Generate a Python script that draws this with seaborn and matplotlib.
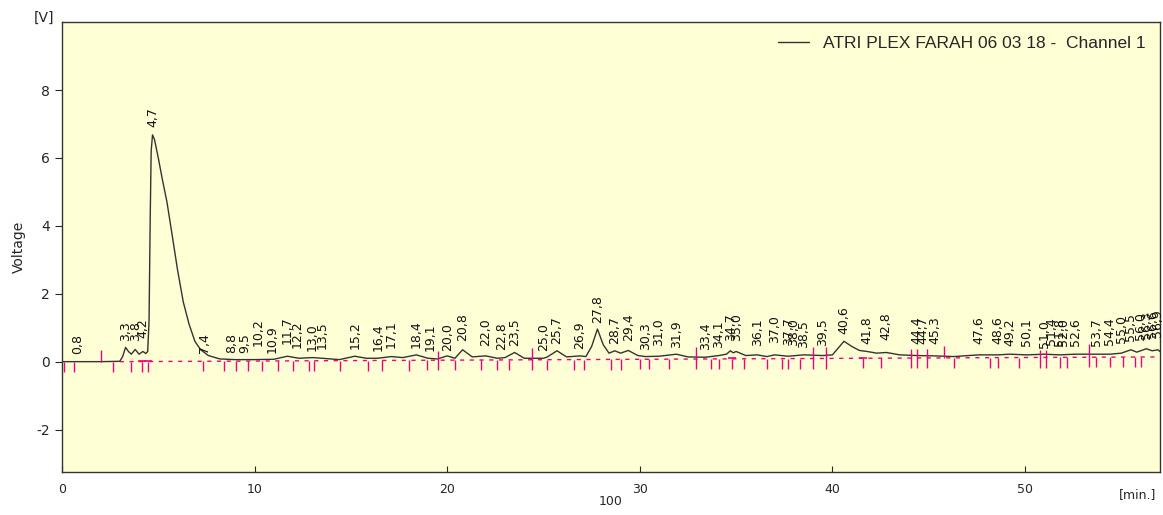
import numpy as np
import pandas as pd
import seaborn as sns
import matplotlib.pyplot as plt

# chromatogram trace: time [min.], voltage [V]
trace_time = [0.0, 1.0, 2.0, 3.0, 3.15, 3.3, 3.45, 3.6, 3.8, 4.0, 4.2, 4.35, 4.45,
              4.52, 4.58, 4.63, 4.7, 4.8, 5.0, 5.2, 5.45, 5.7, 6.0, 6.3, 6.6, 6.9,
              7.2, 7.6, 8.2, 9.0, 10.0, 11.0, 11.7, 12.3, 13.0, 13.5, 14.4, 15.2,
              15.8, 16.4, 17.1, 17.7, 18.4, 19.0, 19.5, 20.0, 20.4, 20.8, 21.3, 22.0,
              22.6, 23.0, 23.5, 24.0, 25.0, 25.2, 25.7, 26.2, 26.9, 27.2, 27.5, 27.8,
              28.1, 28.4, 28.7, 29.0, 29.4, 29.9, 30.3, 31.0, 31.9, 32.5, 33.4, 34.1,
              34.5, 34.7, 34.85, 35.0, 35.5, 36.1, 36.6, 37.0, 37.7, 38.5, 39.5, 40.0,
              40.3, 40.6, 41.0, 41.4, 41.8, 42.3, 42.8, 43.5, 44.4, 45.3, 46.3, 47.6,
              48.6, 49.2, 50.1, 51.0, 51.8, 52.6, 53.7, 54.4, 55.0, 55.5, 55.8, 56.3,
              56.6, 56.9, 57.0]
trace_volt = [0.0, 0.0, 0.0, 0.01, 0.15, 0.42, 0.3, 0.22, 0.36, 0.22, 0.3, 0.24, 0.3,
              1.2, 4.2, 6.2, 6.68, 6.55, 6.0, 5.4, 4.7, 3.8, 2.7, 1.75, 1.1, 0.6,
              0.35, 0.18, 0.08, 0.06, 0.06, 0.07, 0.16, 0.1, 0.12, 0.1, 0.06, 0.16,
              0.1, 0.1, 0.15, 0.12, 0.2, 0.1, 0.08, 0.17, 0.1, 0.35, 0.14, 0.17,
              0.1, 0.12, 0.27, 0.1, 0.1, 0.14, 0.32, 0.14, 0.17, 0.15, 0.45, 0.96,
              0.5, 0.25, 0.32, 0.25, 0.33, 0.18, 0.15, 0.16, 0.22, 0.14, 0.13, 0.18,
              0.22, 0.32, 0.26, 0.3, 0.18, 0.2, 0.15, 0.2, 0.16, 0.2, 0.18, 0.2,
              0.4, 0.6, 0.45, 0.33, 0.3, 0.25, 0.27, 0.2, 0.18, 0.17, 0.15, 0.2,
              0.2, 0.22, 0.2, 0.22, 0.2, 0.22, 0.22, 0.22, 0.25, 0.35, 0.28, 0.38,
              0.32, 0.35, 0.3]

# integration baseline (start/end)
base_time = [3.0, 57.0]
base_volt = [0.0, 0.14]

# peak labels: retention times and height of the label foot
peak_times = [0.8, 3.3, 3.8, 4.2, 4.7, 7.4, 8.8, 9.5, 10.2, 10.9, 11.7, 12.2, 13.0,
              13.5, 15.2, 16.4, 17.1, 18.4, 19.1, 20.0, 20.8, 22.0, 22.8, 23.5, 25.0,
              25.7, 26.9, 27.8, 28.7, 29.4, 30.3, 31.0, 31.9, 33.4, 34.1, 34.7, 35.0,
              36.1, 37.0, 37.7, 38.0, 38.5, 39.5, 40.6, 41.8, 42.8, 44.4, 44.7, 45.3,
              47.6, 48.6, 49.2, 50.1, 51.0, 51.4, 51.8, 52.0, 52.6, 53.7, 54.4, 55.0,
              55.5, 56.0, 56.3, 56.6, 56.9]
label_foot = [0.24, 0.62, 0.62, 0.7, 6.9, 0.26, 0.26, 0.26, 0.47, 0.26, 0.53, 0.41, 0.32,
              0.38, 0.38, 0.32, 0.41, 0.41, 0.32, 0.32, 0.62, 0.47, 0.35, 0.47, 0.32,
              0.53, 0.38, 1.15, 0.53, 0.62, 0.35, 0.47, 0.41, 0.35, 0.41, 0.62, 0.62,
              0.47, 0.56, 0.5, 0.45, 0.41, 0.47, 0.82, 0.53, 0.65, 0.53, 0.53, 0.53,
              0.53, 0.53, 0.47, 0.47, 0.41, 0.5, 0.45, 0.45, 0.47, 0.47, 0.5, 0.55,
              0.62, 0.65, 0.68, 0.7, 0.72]

# peak start/end markers (down ticks) and taller markers
mark_times = [0.1, 0.64, 2.65, 3.6, 4.13, 4.44, 7.3, 8.4, 9.05, 9.65, 10.4, 11.2, 12.0,
              12.8, 13.1, 14.45, 15.9, 16.6, 18.0, 18.95, 20.4, 21.75, 22.6, 23.2,
              25.2, 26.6, 27.1, 28.5, 29.0, 30.0, 30.5, 31.5, 33.7, 34.1, 34.8, 35.4,
              36.6, 37.4, 37.7, 38.3, 41.6, 42.5, 46.3, 48.2, 48.6, 49.7, 51.8, 52.2,
              53.7, 54.4, 55.1, 55.7, 56.0]
tall_times = [19.5, 24.4, 32.9, 39.0, 39.65, 44.1, 44.4, 44.9, 50.8, 51.1, 53.3]
tall_tops = [0.32, 0.4, 0.42, 0.42, 0.42, 0.38, 0.38, 0.38, 0.35, 0.35, 0.53]
up_times = [2.05, 45.8]
up_tops = [0.35, 0.47]
plus_times = [4.13, 4.44, 34.8, 41.6]

pink = '#f0007e'

sns.set_style('ticks')
plt.rcParams['font.family'] = ['DejaVu Sans']
plt.rcParams['axes.unicode_minus'] = False

fig = plt.figure(figsize=(11.63, 5.15), dpi=100)
ax = fig.add_axes([0.0533, 0.0835, 0.944, 0.8735])
ax.set_facecolor('#ffffd6')

df = pd.DataFrame({'time': trace_time, 'volt': trace_volt})
sns.lineplot(data=df, x='time', y='volt', ax=ax, color='#333333', linewidth=1.0,
             label='ATRI PLEX FARAH 06 03 18 -  Channel 1')

ax.plot(base_time, base_volt, color=pink, linestyle=(0, (3, 4)), linewidth=1.0)

mt = np.array(mark_times)
mb = np.interp(mt, base_time, base_volt)
ax.vlines(mt, mb - 0.3, mb, color=pink, linewidth=1.0)
tt = np.array(tall_times)
tb = np.interp(tt, base_time, base_volt)
ax.vlines(tt, tb - 0.3, tall_tops, color=pink, linewidth=1.0)
ax.vlines(up_times, np.interp(up_times, base_time, base_volt), up_tops, color=pink, linewidth=1.0)
pt = np.array(plus_times)
ax.scatter(pt, np.interp(pt, base_time, base_volt) + 0.02, marker='_', s=30, color=pink, linewidths=1.2)

for t, y in zip(peak_times, label_foot):
    ax.text(t, y, f'{t:.1f}'.replace('.', ','), rotation=90, ha='center', va='bottom',
            fontsize=9, color='#111111')

ax.set_xlim(0, 57)
ax.set_ylim(-3.25, 10)
ax.set_xticks([0, 10, 20, 30, 40, 50])
ax.set_yticks([-2, 0, 2, 4, 6, 8])
ax.tick_params(axis='x', direction='in', length=4, labelsize=9, pad=8)
ax.tick_params(axis='y', direction='out', length=5, labelsize=10)
for s in ax.spines.values():
    s.set_color('#333333')
    s.set_linewidth(1.0)

ax.set_xlabel('')
ax.set_ylabel('')
fig.text(0.525, 0.013, '100', fontsize=9, ha='center', va='bottom')
fig.text(0.016, 0.52, 'Voltage', fontsize=10, rotation=90, ha='center', va='center')
fig.text(0.029, 0.965, '[V]', fontsize=10, ha='left', va='center')
fig.text(0.978, 0.04, '[min.]', fontsize=9, ha='center', va='center')

leg = ax.legend(loc='upper right', frameon=False, handlelength=1.8, borderaxespad=0.4,
                prop={'family': 'Liberation Sans', 'size': 12.5})

fig.savefig('out.png', dpi=100, facecolor='white')
